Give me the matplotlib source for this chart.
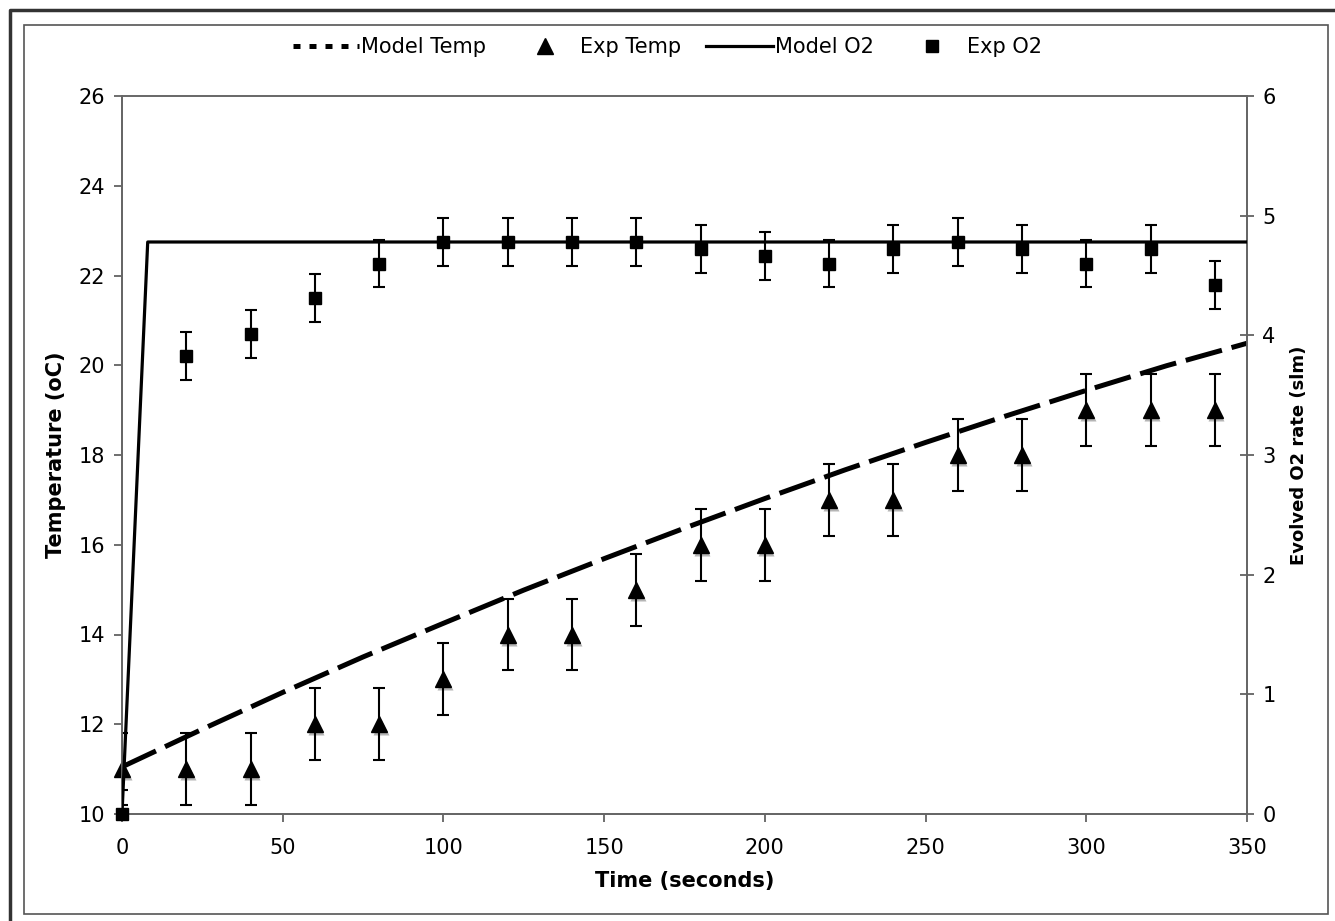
import matplotlib.pyplot as plt
import matplotlib.transforms as mtransforms
from matplotlib.lines import Line2D
from matplotlib.patches import Rectangle

# ---- data ----
exp_time = [0, 20, 40, 60, 80, 100, 120, 140, 160, 180, 200, 220, 240, 260, 280, 300, 320, 340]
exp_temp = [11, 11, 11, 12, 12, 13, 14, 14, 15, 16, 16, 17, 17, 18, 18, 19, 19, 19]
temp_err = 0.8
exp_o2 = [0.0, 3.83, 4.01, 4.31, 4.60, 4.78, 4.78, 4.78, 4.78, 4.72, 4.66,
          4.60, 4.72, 4.78, 4.72, 4.60, 4.72, 4.42]
o2_err = 0.2

model_time = [0, 25, 50, 75, 100, 125, 150, 175, 200, 225, 250, 275, 300, 325, 350]
model_temp = [11.05, 11.89, 12.71, 13.50, 14.25, 14.99, 15.69, 16.37, 17.03,
              17.67, 18.28, 18.87, 19.44, 19.99, 20.49]
model_o2_time = [0, 8, 350]
model_o2 = [0.0, 4.78, 4.78]

W, H = 1335, 921
fig = plt.figure(figsize=(W / 100, H / 100), dpi=100)
plt.rcParams['font.family'] = ['DejaVu Sans']

# frame lines (Excel chart area border)
fig.add_artist(Rectangle((24 / W, 1 - 914 / H), (1328 - 24) / W, (914 - 25) / H,
                         transform=fig.transFigure, fill=False, ec='#555555', lw=1.2))
fig.add_artist(Line2D([10 / W, 10 / W, 1], [0, 1 - 10 / H, 1 - 10 / H],
                      transform=fig.transFigure, color='#333333', lw=2.5))

ax = fig.add_axes([122 / W, 1 - 814 / H, (1247 - 122) / W, (814 - 96) / H])
ax2 = ax.twinx()

# temperature (left axis)
ax.plot(model_time, model_temp, color='black', lw=3.6, dashes=(7.5, 2.0),
        zorder=3, clip_on=True)
shadow = mtransforms.offset_copy(ax.transData, fig=fig, x=1.5, y=-3, units='dots')
ax.plot(exp_time, exp_temp, ls='none', marker='^', ms=11, color='#b5b5b5',
        mec='none', transform=shadow, zorder=3)
ax.errorbar(exp_time, exp_temp, yerr=temp_err, fmt='none', ecolor='black',
            elinewidth=1.5, capsize=4.5, capthick=1.5, zorder=4)
ax.plot(exp_time, exp_temp, ls='none', marker='^', ms=11, color='black',
        zorder=5, clip_on=False)

# O2 (right axis)
ax2.plot(model_o2_time, model_o2, color='black', lw=2.3, zorder=3)
ax2.errorbar(exp_time, exp_o2, yerr=o2_err, fmt='none', ecolor='black',
             elinewidth=1.5, capsize=4.5, capthick=1.5, zorder=4)
ax2.plot(exp_time, exp_o2, ls='none', marker='s', ms=8, color='black',
         zorder=5, clip_on=False)

ax.set_xlim(0, 350)
ax.set_ylim(10, 26)
ax2.set_ylim(0, 6)
ax.set_xticks(range(0, 351, 50))
ax.set_yticks(range(10, 27, 2))
ax2.set_yticks(range(0, 7))

for a in (ax, ax2):
    for s in a.spines.values():
        s.set_color('#666666')
        s.set_linewidth(1.3)
ax.spines['top'].set_color('#999999')
ax.tick_params(axis='y', direction='out', length=6, width=1.2, color='#555555',
               labelsize=15, pad=6)
ax.tick_params(axis='x', direction='out', length=6, width=1.2, color='#555555',
               labelsize=15, pad=11)
ax2.tick_params(axis='y', direction='inout', length=10, width=1.2, color='#555555',
                labelsize=15, pad=6)
ax2.patch.set_visible(False)

ax.set_xlabel('Time (seconds)', fontsize=15, fontweight='bold', labelpad=10)
ax.set_ylabel('Temperature (oC)', fontsize=15, fontweight='bold', labelpad=9)
ax2.set_ylabel('Evolved O2 rate (slm)', fontsize=13, fontweight='bold', labelpad=10)

handles = [
    Line2D([], [], color='black', lw=3.6, dashes=(1.4, 1.8)),
    Line2D([], [], ls='none', marker='^', ms=11, color='black'),
    Line2D([], [], color='black', lw=2.3),
    Line2D([], [], ls='none', marker='s', ms=8, color='black'),
]
labels = ['Model Temp', 'Exp Temp', 'Model O2', 'Exp O2']
fig.legend(handles, labels, loc='center', bbox_to_anchor=(0.5, 1 - 47 / H), ncol=4,
           frameon=False, fontsize=15, handlelength=3.2, handletextpad=0.1,
           columnspacing=1.2)

fig.savefig('out.png', dpi=100)
